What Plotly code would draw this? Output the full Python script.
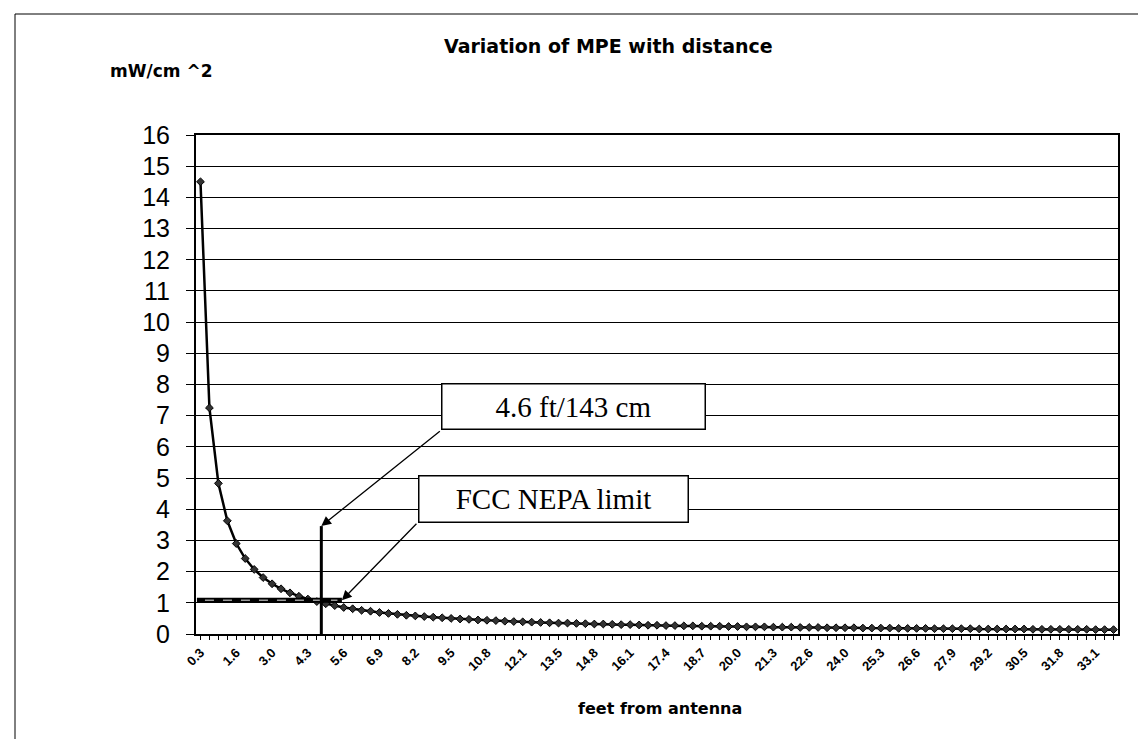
import plotly.graph_objects as go

# distance from antenna in feet (category labels, 10 cm steps)
feet = [
    "0.3", "0.7", "1.0", "1.3", "1.6", "2.0", "2.3", "2.6", "3.0", "3.3",
    "3.6", "3.9", "4.3", "4.6", "4.9", "5.2", "5.6", "5.9", "6.2", "6.6",
    "6.9", "7.2", "7.5", "7.9", "8.2", "8.5", "8.9", "9.2", "9.5", "9.8",
    "10.2", "10.5", "10.8", "11.2", "11.5", "11.8", "12.1", "12.5", "12.8", "13.1",
    "13.5", "13.8", "14.1", "14.4", "14.8", "15.1", "15.4", "15.7", "16.1", "16.4",
    "16.7", "17.1", "17.4", "17.7", "18.0", "18.4", "18.7", "19.0", "19.4", "19.7",
    "20.0", "20.3", "20.7", "21.0", "21.3", "21.7", "22.0", "22.3", "22.6", "23.0",
    "23.3", "23.6", "24.0", "24.3", "24.6", "24.9", "25.3", "25.6", "25.9", "26.2",
    "26.6", "26.9", "27.2", "27.6", "27.9", "28.2", "28.5", "28.9", "29.2", "29.5",
    "29.9", "30.2", "30.5", "30.8", "31.2", "31.5", "31.8", "32.2", "32.5", "32.8",
    "33.1", "33.5", "33.8",
]

# power density, mW/cm^2
mpe = [
    14.50, 7.25, 4.83, 3.63, 2.90, 2.42, 2.07, 1.81, 1.61, 1.45,
    1.32, 1.21, 1.12, 1.04, 0.97, 0.91, 0.85, 0.81, 0.76, 0.73,
    0.69, 0.66, 0.63, 0.60, 0.58, 0.56, 0.54, 0.52, 0.50, 0.48,
    0.47, 0.45, 0.44, 0.43, 0.41, 0.40, 0.39, 0.38, 0.37, 0.36,
    0.35, 0.35, 0.34, 0.33, 0.32, 0.32, 0.31, 0.30, 0.30, 0.29,
    0.28, 0.28, 0.27, 0.27, 0.26, 0.26, 0.25, 0.25, 0.25, 0.24,
    0.24, 0.23, 0.23, 0.23, 0.22, 0.22, 0.22, 0.21, 0.21, 0.21,
    0.20, 0.20, 0.20, 0.20, 0.19, 0.19, 0.19, 0.19, 0.18, 0.18,
    0.18, 0.18, 0.17, 0.17, 0.17, 0.17, 0.17, 0.16, 0.16, 0.16,
    0.16, 0.16, 0.16, 0.15, 0.15, 0.15, 0.15, 0.15, 0.15, 0.15,
    0.14, 0.14, 0.14,
]

label_every = 4
tick_text = [f if i % label_every == 0 else "" for i, f in enumerate(feet)]

limit_value = 1.08          # FCC NEPA limit line level
limit_end_cat = 15.8        # where the drawn limit line stops
distance_cat = 13.5         # category position of 4.6 ft / 143 cm
distance_top = 3.46

W, H = 1146, 739
L, R, T, B = 188, 36, 127, 113
pw, ph = W - L - R, H - T - B

def px(x):
    return (x - L) / pw

def py(y):
    return (H - B - y) / ph

fig = go.Figure()
fig.add_trace(go.Scatter(
    x=feet, y=mpe, mode="lines+markers",
    line=dict(color="black", width=2.5),
    marker=dict(symbol="diamond", size=6, color="#333333",
                line=dict(color="black", width=1)),
    showlegend=False, hoverinfo="x+y",
))

shapes = [
    # outer frame
    dict(type="rect", xref="paper", yref="paper",
         x0=px(7), x1=px(1141), y0=py(734), y1=py(6),
         line=dict(color="black", width=1), layer="below"),
    # FCC limit line (thick dark line with a light dashed core)
    dict(type="line", xref="x", yref="y", x0=-0.4, x1=limit_end_cat,
         y0=limit_value, y1=limit_value, line=dict(color="black", width=5)),
    dict(type="line", xref="x", yref="y", x0=0.5, x1=limit_end_cat - 0.5,
         y0=limit_value, y1=limit_value,
         line=dict(color="#9a9a9a", width=1.5, dash="dash")),
    # vertical distance marker
    dict(type="line", xref="x", yref="y", x0=distance_cat, x1=distance_cat,
         y0=-0.42, y1=distance_top, line=dict(color="black", width=3)),
]

box_font = dict(family="Liberation Serif", size=29, color="black")
label_font = "DejaVu Sans"

annotations = [
    dict(text="<b>Variation of MPE with distance</b>", xref="paper", yref="paper",
         x=px(600), y=py(38), showarrow=False, xanchor="center", yanchor="middle",
         font=dict(family=label_font, size=19, color="black")),
    dict(text="<b>mW/cm ^2</b>", xref="paper", yref="paper",
         x=px(100), y=py(63), showarrow=False, xanchor="left", yanchor="middle",
         font=dict(family=label_font, size=17, color="black")),
    dict(text="<b>feet from antenna</b>", xref="paper", yref="paper",
         x=px(652), y=py(700), showarrow=False, xanchor="center", yanchor="middle",
         font=dict(family=label_font, size=16, color="black")),
    # arrows (tail at box corner, head at marker)
    dict(text="", xref="x", yref="y", x=distance_cat, y=distance_top,
         ax=120, ay=-96, axref="pixel", ayref="pixel",
         showarrow=True, arrowhead=2, arrowsize=1.5, arrowwidth=1.3,
         arrowcolor="black", standoff=0),
    dict(text="", xref="x", yref="y", x=limit_end_cat, y=limit_value,
         ax=76, ay=-78, axref="pixel", ayref="pixel",
         showarrow=True, arrowhead=2, arrowsize=1.5, arrowwidth=1.3,
         arrowcolor="black", standoff=0),
    # text boxes
    dict(text="4.6 ft/143 cm", xref="paper", yref="paper",
         x=px(433), y=py(375), xanchor="left", yanchor="top", showarrow=False,
         font=box_font, bordercolor="black", borderwidth=1.5, bgcolor="white",
         width=262, height=44, align="center", borderpad=0),
    dict(text="FCC NEPA limit", xref="paper", yref="paper",
         x=px(410), y=py(467), xanchor="left", yanchor="top", showarrow=False,
         font=box_font, bordercolor="black", borderwidth=1.5, bgcolor="white",
         width=268, height=45, align="center", borderpad=0),
]

fig.update_layout(
    width=W, height=H,
    margin=dict(l=L, r=R, t=T, b=B, autoexpand=False),
    paper_bgcolor="white", plot_bgcolor="white",
    shapes=shapes, annotations=annotations,
    font=dict(family="Liberation Sans", color="black"),
    xaxis=dict(
        type="category", tickmode="array", tickvals=feet,
        ticktext=[f"<b>{t}</b>" if t else "" for t in tick_text],
        tickangle=-45, tickfont=dict(size=13, family="Liberation Sans", color="black"),
        ticks="outside", ticklen=4, tickcolor="black", tickwidth=1,
        showline=True, linecolor="black", linewidth=2, mirror=True,
        showgrid=False, range=[-0.5, len(feet) - 0.5],
    ),
    yaxis=dict(
        range=[0, 16], dtick=1, tickfont=dict(size=25, family="Liberation Sans", color="black"),
        ticks="outside", ticklen=8, tickcolor="black", ticklabelstandoff=11,
        showline=True, linecolor="black", linewidth=2, mirror=True,
        showgrid=True, gridcolor="black", gridwidth=1, zeroline=False,
    ),
)

fig.write_html("out.html")
